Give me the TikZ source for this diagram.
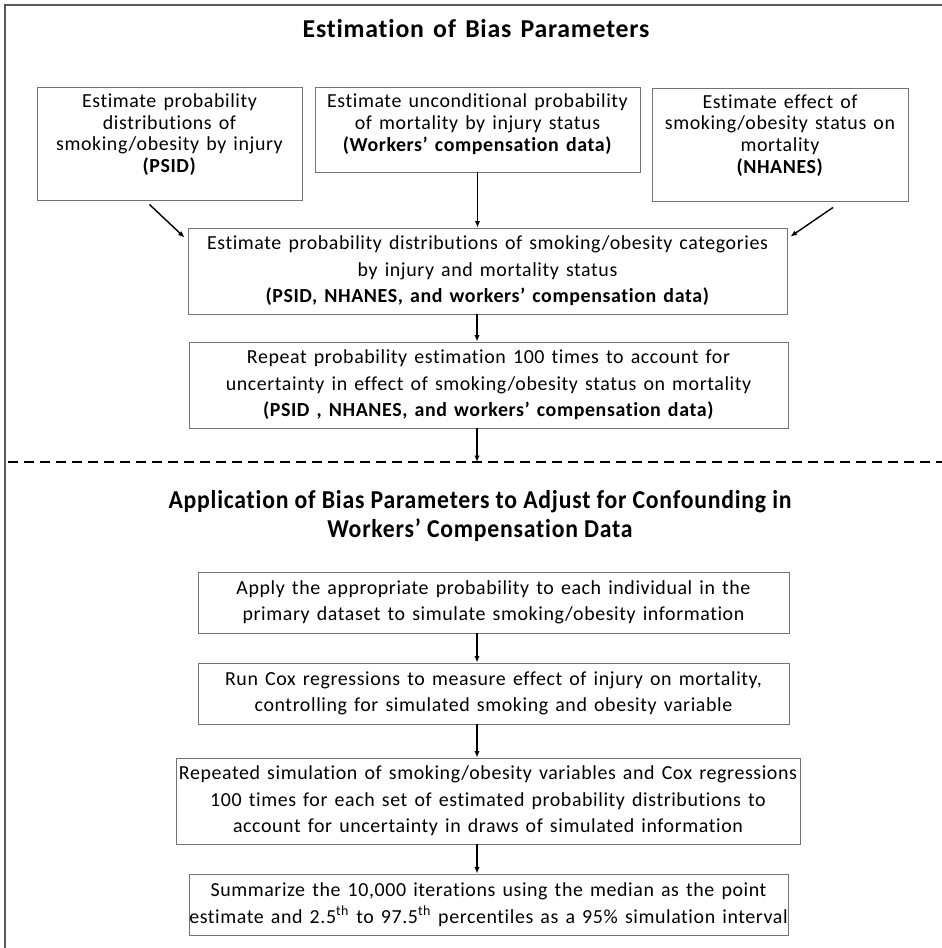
\documentclass[tikz,border=0pt]{standalone}
\usepackage{fontspec}
\setmainfont{Carlito}[Ligatures=NoCommon,LetterSpace=3,WordSpace=1.4]
\newfontfamily\condfont{Carlito}[FakeStretch=0.92,Ligatures=NoCommon,LetterSpace=3]
\usetikzlibrary{arrows.meta}
\newcommand{\lowpad}[1]{\rule[-#1]{0pt}{0pt}}
\begin{document}
\begin{tikzpicture}[x=0.03cm,y=-0.03cm,
  box/.style={draw=black!55,line width=.8pt,align=center,inner xsep=0pt,inner ysep=0pt,
    font=\fontsize{17}{22.6}\selectfont},
  topbox/.style={box,font=\fontsize{17}{18.5}\selectfont},
  arr/.style={-{Latex[length=5.5pt,width=4.5pt]},line width=1.2pt},
  title/.style={align=center,font=\fontsize{22}{25.5}\selectfont\bfseries}]
\useasboundingbox (0,0) rectangle (941,948);
% frame and the cut between the two parts
\draw[black!65,line width=1.5pt] (5,960)--(5,5)--(960,5);
\draw[line width=1.6pt,dash pattern=on 3mm off 1.8mm] (8,462)--(945,462);
\coordinate (cut) at (477,462);
% estimation part
\node[title] (ttlA) at (476,29) {Estimation of Bias Parameters};
\node[topbox,minimum width=7.95cm,minimum height=3.39cm] (psid) at (169.5,143.5)
  {Estimate probability\\distributions of\\smoking/obesity by injury\\\textbf{(PSID)}\lowpad{18pt}};
\node[topbox,minimum width=9.75cm,minimum height=2.55cm] (wrk) at (477.5,129.5)
  {Estimate unconditional probability\\of mortality by injury status\\\textbf{(Workers’ compensation data)}\lowpad{12pt}};
\node[topbox,minimum width=7.68cm,minimum height=3.39cm] (nh) at (780,144.5)
  {Estimate effect of\\smoking/obesity status on\\mortality\\\textbf{(NHANES)}\lowpad{18pt}};
\node[box,minimum width=17.97cm,minimum height=2.58cm] (est) at (487.5,271)
  {Estimate probability distributions of smoking/obesity categories\\by injury and mortality status\\\textbf{(PSID, NHANES, and workers’ compensation data)}};
\node[box,minimum width=17.97cm,minimum height=2.58cm] (rpt) at (488.5,385)
  {Repeat probability estimation 100 times to account for\\uncertainty in effect of smoking/obesity status on mortality\\\textbf{(PSID , NHANES, and workers’ compensation data)}};
% application part
\node[title] (ttlB) at (480,516)
  {\condfont Application of Bias Parameters to Adjust for Confounding in\\\condfont Workers’ Compensation Data};
\node[box,minimum width=17.73cm,minimum height=1.83cm] (apl) at (493.5,602.5)
  {Apply the appropriate probability to each individual in the\\primary dataset to simulate smoking/obesity information};
\node[box,minimum width=17.73cm,minimum height=1.83cm] (cox) at (493.5,693.5)
  {Run Cox regressions to measure effect of injury on mortality,\\controlling for simulated smoking and obesity variable};
\node[box,minimum width=18.72cm,minimum height=2.58cm] (sim) at (488,801)
  {Repeated simulation of smoking/obesity variables and Cox regressions\\100 times for each set of estimated probability distributions to\\account for uncertainty in draws of simulated information};
\node[box,minimum width=17.97cm,minimum height=1.83cm] (sum) at (488.5,904.5)
  {Summarize the 10,000 iterations using the median as the point\\estimate and 2.5\textsuperscript{th} to 97.5\textsuperscript{th} percentiles as a 95\% simulation interval};
% arrows
\draw[arr] ([shift={(-20,4)}]psid.south)--([shift={(-3,10)}]est.north west);
\draw[arr] ([shift={(53,6)}]nh.south)--([shift={(3,9)}]est.north east);
\draw[arr] (wrk.south)--(wrk.south |- est.north);
\draw[arr] (est.south -| cut)--(rpt.north -| cut);
\draw[arr] (rpt.south -| cut)--(cut);
\draw[arr] (apl.south -| cut)--(cox.north -| cut);
\draw[arr] (cox.south -| cut)--(sim.north -| cut);
\draw[arr] (sim.south -| cut)--(sum.north -| cut);
\end{tikzpicture}
\end{document}
